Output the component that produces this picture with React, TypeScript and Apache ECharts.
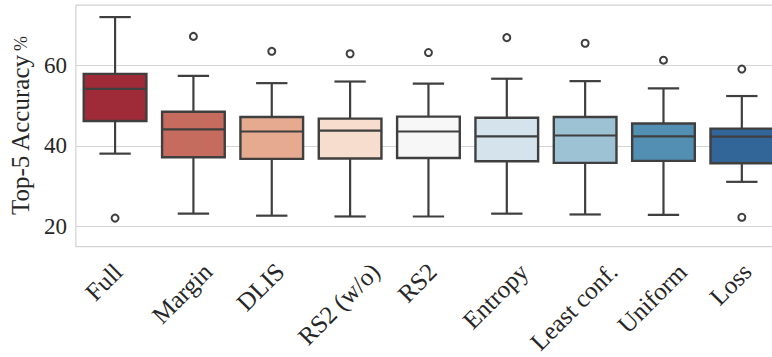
import React, { useEffect, useRef } from "react";
import * as echarts from "echarts";

const categories = ["Full", "Margin", "DLIS", "RS2 (w/o)", "RS2", "Entropy", "Least conf.", "Uniform", "Loss"];
const whiskerLow = [38.1, 23.2, 22.7, 22.5, 22.5, 23.2, 23.0, 22.9, 31.1];
const q1 = [46.2, 37.2, 36.8, 36.9, 37.0, 36.2, 35.8, 36.3, 35.7];
const median = [54.2, 44.1, 43.6, 43.8, 43.6, 42.4, 42.6, 42.4, 42.3];
const q3 = [57.9, 48.5, 47.2, 46.8, 47.3, 47.0, 47.2, 45.6, 44.3];
const whiskerHigh = [72.0, 57.4, 55.6, 56.0, 55.5, 56.7, 56.1, 54.3, 52.4];
const outliers: [number, number][] = [
  [0, 22.1], [1, 67.2], [2, 63.5], [3, 62.9], [4, 63.2],
  [5, 66.9], [6, 65.5], [7, 61.3], [8, 59.1], [8, 22.3],
];
const yTicks = [20, 40, 60];

const boxColors = ["#9f2b39", "#c56c5e", "#e6aa90", "#f6ddce", "#f7f7f7", "#d5e4ec", "#9cc2d4", "#538fb3", "#326699"];
const FONT = '"Liberation Serif", "DejaVu Serif", serif';
const XLABEL_FS = 25;
const YTICK_FS = 23;
const YNAME_FS = 25;
const LINE = "#3f3f3f";
const TEXT = "#262626";
const GRID = "#d4d4d4";

function measure(text: string, fs: number): number {
  const c = document.createElement("canvas");
  const ctx = c.getContext("2d");
  if (!ctx) return text.length * fs * 0.5;
  ctx.font = `${fs}px ${FONT}`;
  return ctx.measureText(text).width;
}

export default function App() {
  const ref = useRef<HTMLDivElement>(null);
  useEffect(() => {
    if (!ref.current) return;
    const chart = echarts.init(ref.current, null, { renderer: "svg" });
    const rich: Record<string, any> = {};
    categories.forEach((c, i) => {
      const L = measure(c, XLABEL_FS);
      const p = Math.round((L + XLABEL_FS) / 2);
      rich["l" + i] = {
        fontSize: XLABEL_FS,
        fontFamily: FONT,
        color: TEXT,
        padding: [Math.max(0, p - 16), p + 16, 0, 0],
      };
    });
    const boxData = categories.map((_, i) => [i, whiskerLow[i], q1[i], median[i], q3[i], whiskerHigh[i]]);
    chart.setOption({
      animation: false,
      grid: {
        left: 68.5,
        top: 5,
        bottom: 109.3,
        right: 0,
        show: true,
        borderColor: GRID,
        borderWidth: 1.25,
        backgroundColor: "#ffffff",
      },
      xAxis: {
        type: "category",
        data: categories,
        axisLine: { show: false },
        axisTick: { show: false },
        splitLine: { show: false },
        axisLabel: {
          interval: 0,
          rotate: 45,
          align: "center",
          verticalAlign: "middle",
          margin: 12,
          formatter: (v: string, i: number) => `{l${i}|${v}}`,
          rich,
        },
      },
      yAxis: {
        type: "value",
        min: 15,
        max: 75,
        axisLine: { show: false },
        axisTick: { show: false, customValues: yTicks },
        splitLine: { show: true, lineStyle: { color: GRID, width: 1.2 } },
        axisLabel: {
          margin: 9,
          fontSize: YTICK_FS,
          fontFamily: FONT,
          color: TEXT,
          customValues: yTicks,
        },
        name: "{a|Top-5 Accuracy} {b|%}",
        nameLocation: "middle",
        nameGap: 41,
        nameTextStyle: {
          rich: {
            a: { fontSize: YNAME_FS, fontFamily: FONT, color: TEXT },
            b: { fontSize: 18, fontFamily: FONT, color: TEXT },
          },
        },
      },
      series: [
        {
          type: "custom",
          z: 3,
          data: boxData,
          encode: { x: 0, y: [1, 2, 3, 4, 5] },
          renderItem: (params: any, api: any) => {
            const idx = api.value(0);
            const pLow = api.coord([idx, api.value(1)]);
            const pQ1 = api.coord([idx, api.value(2)]);
            const pMed = api.coord([idx, api.value(3)]);
            const pQ3 = api.coord([idx, api.value(4)]);
            const pHigh = api.coord([idx, api.value(5)]);
            const band = api.size([1, 0])[0];
            const w = band * 0.8;
            const x = pLow[0];
            const ls = { stroke: LINE, lineWidth: 2.2 };
            return {
              type: "group",
              children: [
                { type: "line", shape: { x1: x, y1: pLow[1], x2: x, y2: pQ1[1] }, style: ls },
                { type: "line", shape: { x1: x, y1: pQ3[1], x2: x, y2: pHigh[1] }, style: ls },
                { type: "line", shape: { x1: x - w / 4, y1: pLow[1], x2: x + w / 4, y2: pLow[1] }, style: ls },
                { type: "line", shape: { x1: x - w / 4, y1: pHigh[1], x2: x + w / 4, y2: pHigh[1] }, style: ls },
                {
                  type: "rect",
                  shape: { x: x - w / 2, y: pQ3[1], width: w, height: pQ1[1] - pQ3[1] },
                  style: { fill: boxColors[idx], stroke: LINE, lineWidth: 2.4 },
                },
                { type: "line", shape: { x1: x - w / 2, y1: pMed[1], x2: x + w / 2, y2: pMed[1] }, style: ls },
              ],
            };
          },
        },
        {
          type: "scatter",
          z: 4,
          data: outliers,
          symbol: "circle",
          symbolSize: 7,
          itemStyle: { color: "#ffffff", borderColor: LINE, borderWidth: 2, opacity: 1 },
        },
      ],
    });
    return () => chart.dispose();
  }, []);
  return (
    <div style={{ position: "fixed", left: 0, top: 0, width: 772, height: 357, overflow: "hidden", background: "#fff" }}>
      <div ref={ref} style={{ width: 781, height: 357 }} />
    </div>
  );
}
